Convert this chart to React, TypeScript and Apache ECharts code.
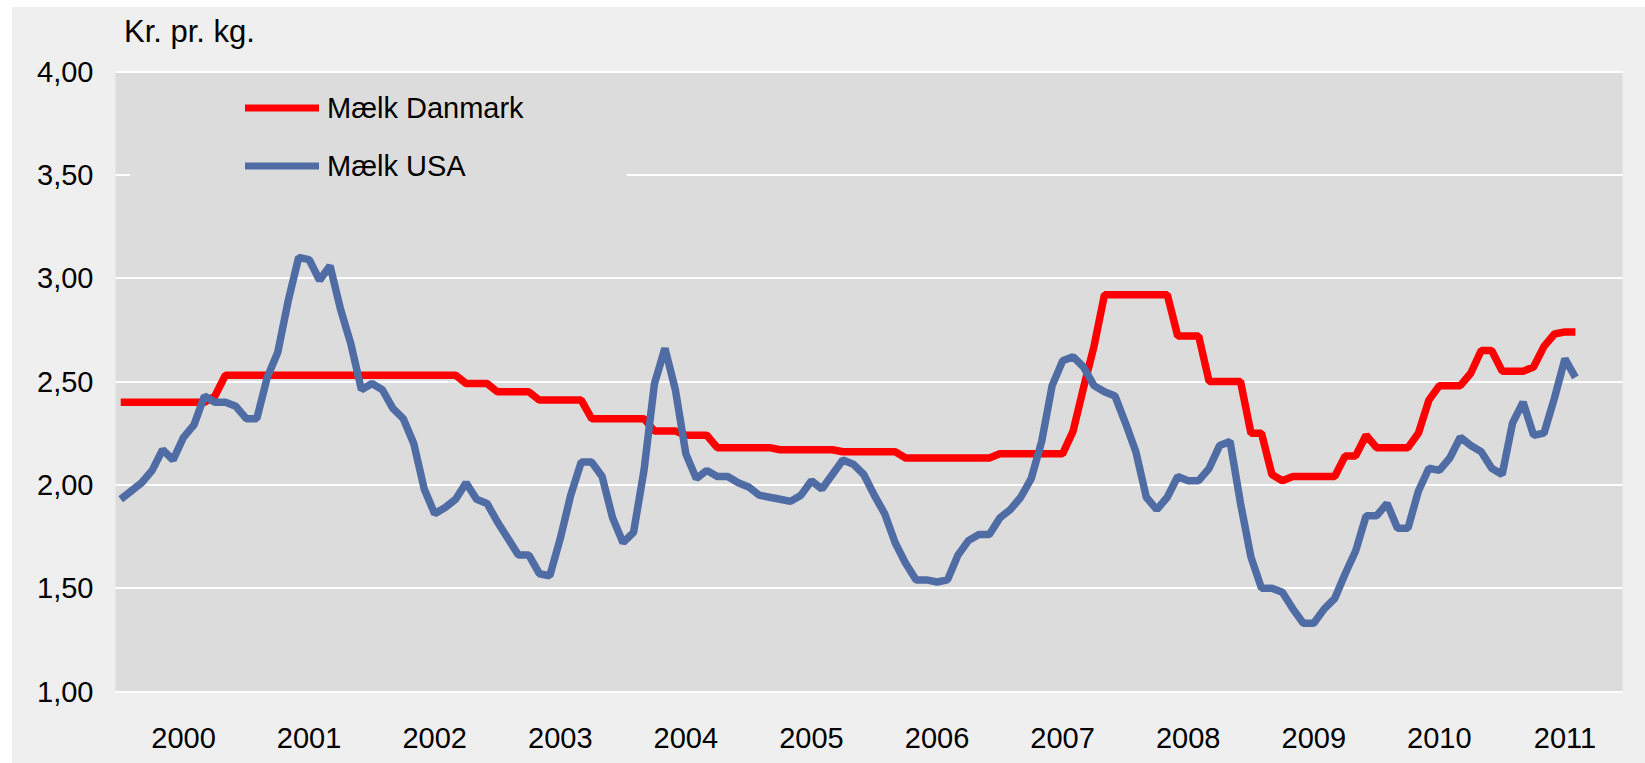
import React, { useEffect, useRef } from "react";
import * as echarts from "echarts";

const YEARS = [2000, 2001, 2002, 2003, 2004, 2005, 2006, 2007, 2008, 2009, 2010, 2011];
const MONTHS = ["01", "02", "03", "04", "05", "06", "07", "08", "09", "10", "11", "12"];
const Y_TICKS = [1, 1.5, 2, 2.5, 3, 3.5, 4];

const SERIES_NAMES = ["Mælk Danmark", "Mælk USA"];
const UNIT_LABEL = "Kr. pr. kg.";

// Monthly prices from Jan 2000, kr. per kg
const DANMARK = [
  2.40, 2.40, 2.40, 2.40, 2.40, 2.40, 2.40, 2.40, 2.40, 2.43, 2.53, 2.53,
  2.53, 2.53, 2.53, 2.53, 2.53, 2.53, 2.53, 2.53, 2.53, 2.53, 2.53, 2.53,
  2.53, 2.53, 2.53, 2.53, 2.53, 2.53, 2.53, 2.53, 2.53, 2.49, 2.49, 2.49,
  2.45, 2.45, 2.45, 2.45, 2.41, 2.41, 2.41, 2.41, 2.41, 2.32, 2.32, 2.32,
  2.32, 2.32, 2.32, 2.26, 2.26, 2.26, 2.24, 2.24, 2.24, 2.18, 2.18, 2.18,
  2.18, 2.18, 2.18, 2.17, 2.17, 2.17, 2.17, 2.17, 2.17, 2.16, 2.16, 2.16,
  2.16, 2.16, 2.16, 2.13, 2.13, 2.13, 2.13, 2.13, 2.13, 2.13, 2.13, 2.13,
  2.15, 2.15, 2.15, 2.15, 2.15, 2.15, 2.15, 2.26, 2.47, 2.67, 2.92, 2.92,
  2.92, 2.92, 2.92, 2.92, 2.92, 2.72, 2.72, 2.72, 2.50, 2.50, 2.50, 2.50,
  2.25, 2.25, 2.05, 2.02, 2.04, 2.04, 2.04, 2.04, 2.04, 2.14, 2.14, 2.24,
  2.18, 2.18, 2.18, 2.18, 2.25, 2.41, 2.48, 2.48, 2.48, 2.54, 2.65, 2.65,
  2.55, 2.55, 2.55, 2.57, 2.67, 2.73, 2.74, 2.74,
];

const USA = [
  1.93, 1.97, 2.01, 2.07, 2.17, 2.12, 2.23, 2.29, 2.43, 2.40, 2.40, 2.38,
  2.32, 2.32, 2.52, 2.64, 2.89, 3.10, 3.09, 2.99, 3.06, 2.85, 2.68, 2.46,
  2.49, 2.46, 2.37, 2.32, 2.20, 1.98, 1.86, 1.89, 1.93, 2.01, 1.93, 1.91,
  1.82, 1.74, 1.66, 1.66, 1.57, 1.56, 1.74, 1.95, 2.11, 2.11, 2.04, 1.84,
  1.72, 1.77, 2.07, 2.49, 2.66, 2.46, 2.15, 2.03, 2.07, 2.04, 2.04, 2.01,
  1.99, 1.95, 1.94, 1.93, 1.92, 1.95, 2.02, 1.98, 2.05, 2.12, 2.10, 2.05,
  1.95, 1.86, 1.72, 1.62, 1.54, 1.54, 1.53, 1.54, 1.66, 1.73, 1.76, 1.76,
  1.84, 1.88, 1.94, 2.03, 2.21, 2.48, 2.60, 2.62, 2.57, 2.48, 2.45, 2.43,
  2.30, 2.16, 1.94, 1.88, 1.94, 2.04, 2.02, 2.02, 2.08, 2.19, 2.21, 1.91,
  1.65, 1.50, 1.50, 1.48, 1.40, 1.33, 1.33, 1.40, 1.45, 1.57, 1.68, 1.85,
  1.85, 1.91, 1.79, 1.79, 1.97, 2.08, 2.07, 2.13, 2.23, 2.19, 2.16, 2.08,
  2.05, 2.30, 2.40, 2.24, 2.25, 2.42, 2.61, 2.52,
];

const CATEGORIES = YEARS.flatMap((y) => MONTHS.map((m) => `${y}-${m}`));

const FONT = "'Liberation Sans', Arial, sans-serif";

export default function App() {
  const ref = useRef<HTMLDivElement>(null);

  useEffect(() => {
    if (!ref.current) return;
    const chart = echarts.init(ref.current, undefined, { renderer: "svg" });
    const legendText = { fontSize: 29, fontFamily: FONT, color: "#000", lineHeight: 30, padding: [0, 0, 0, 3] };
    chart.setOption({
      animation: false,
      backgroundColor: "#EFEFEF",
      textStyle: { fontFamily: FONT },
      title: {
        text: UNIT_LABEL,
        left: 112,
        top: 9,
        padding: 0,
        textStyle: { fontSize: 31, fontWeight: "normal", color: "#000", fontFamily: FONT },
      },
      graphic: [
        {
          type: "rect",
          z: 1,
          shape: { x: 118, y: 80, width: 497, height: 105 },
          style: { fill: "#DCDCDC" },
        },
      ],
      legend: [
        {
          data: [SERIES_NAMES[0]],
          left: 233,
          top: 86,
          padding: 0,
          itemWidth: 74,
          itemHeight: 7,
          icon: "rect",
          textStyle: legendText,
          z: 5,
        },
        {
          data: [SERIES_NAMES[1]],
          left: 233,
          top: 144,
          padding: 0,
          itemWidth: 74,
          itemHeight: 7,
          icon: "rect",
          textStyle: legendText,
          z: 5,
        },
      ],
      grid: {
        left: 103.5,
        top: 64.5,
        width: 1507,
        height: 620,
        show: true,
        backgroundColor: "#DCDCDC",
        borderWidth: 0,
      },
      xAxis: {
        type: "category",
        data: CATEGORIES,
        boundaryGap: true,
        axisLine: { show: false },
        axisTick: { show: false },
        splitLine: { show: false },
        axisLabel: {
          interval: (index: number) => index % 12 === 6,
          formatter: (v: string) => v.slice(0, 4),
          fontSize: 29,
          color: "#000",
          fontFamily: FONT,
          margin: 32,
        },
      },
      yAxis: {
        type: "value",
        min: Y_TICKS[0],
        max: Y_TICKS[Y_TICKS.length - 1],
        interval: 0.5,
        axisLine: { show: false },
        axisTick: { show: false },
        splitLine: { show: true, lineStyle: { color: "#FFFFFF", width: 2 } },
        axisLabel: {
          formatter: (v: number) => v.toFixed(2).replace(".", ","),
          fontSize: 29,
          color: "#000",
          fontFamily: FONT,
          margin: 22,
        },
      },
      series: [
        {
          name: SERIES_NAMES[0],
          type: "line",
          data: DANMARK,
          symbol: "none",
          lineStyle: { color: "#FF0000", width: 7.5 },
          itemStyle: { color: "#FF0000" },
          z: 2,
        },
        {
          name: SERIES_NAMES[1],
          type: "line",
          data: USA,
          symbol: "none",
          lineStyle: { color: "#4F6CA4", width: 7.5 },
          itemStyle: { color: "#4F6CA4" },
          z: 3,
        },
      ],
    });
    return () => chart.dispose();
  }, []);

  return (
    <div
      ref={ref}
      style={{ position: "absolute", left: 12, top: 7, width: 1633, height: 756 }}
    />
  );
}
